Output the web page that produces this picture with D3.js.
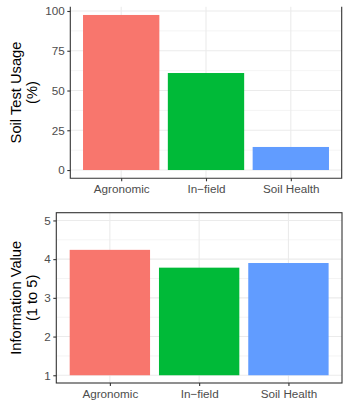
<!DOCTYPE html>
<html><head><meta charset="utf-8">
<script src="https://cdn.jsdelivr.net/npm/d3@7"></script>
<style>
body{margin:0;background:#fff;}
svg{display:block;font-family:"Liberation Sans",Arial,sans-serif;}
</style></head>
<body><svg id="c" width="350" height="409"></svg>
<script>
const categories = ["Agronomic", "In\u2212field", "Soil Health"];
const colors = ["#F8766D", "#00BA38", "#619CFF"];
const usageValues = [97.5, 61.0, 14.5];
const usageTicks = [0, 25, 50, 75, 100];
const usageMinor = [12.5, 37.5, 62.5, 87.5];
const infoValues = [4.24, 3.78, 3.90];
const infoTicks = [1, 2, 3, 4, 5];
const infoMinor = [1.5, 2.5, 3.5, 4.5];

const svg = d3.select("#c");

function panel(opts) {
  const {x0, x1, y0, y1, domain, values, base, ticks, minor, title, fullBorder} = opts;
  const g = svg.append("g");
  const x = d3.scalePoint().domain(categories).range([x0, x1]).padding(0.6);
  const step = x.step();
  const y = d3.scaleLinear().domain(domain).range([y1, y0]);
  g.selectAll(".mn").data(minor).join("line")
    .attr("x1", x0).attr("x2", x1).attr("y1", d => y(d)).attr("y2", d => y(d))
    .attr("stroke", "#ebebeb").attr("stroke-width", 0.55);
  g.selectAll(".mj").data(ticks).join("line")
    .attr("x1", x0).attr("x2", x1).attr("y1", d => y(d)).attr("y2", d => y(d))
    .attr("stroke", "#ebebeb").attr("stroke-width", 1.1);
  g.selectAll(".vx").data(categories).join("line")
    .attr("x1", d => x(d)).attr("x2", d => x(d)).attr("y1", y0).attr("y2", y1)
    .attr("stroke", "#ebebeb").attr("stroke-width", 1.1);
  g.selectAll(".bar").data(values).join("rect")
    .attr("x", (d, i) => x(categories[i]) - step * 0.45)
    .attr("width", step * 0.9)
    .attr("y", d => y(d))
    .attr("height", d => y(base) - y(d))
    .attr("fill", (d, i) => colors[i]);
  const bc = "#333333";
  if (fullBorder) {
    g.append("rect").attr("x", x0).attr("y", y0).attr("width", x1 - x0).attr("height", y1 - y0)
      .attr("fill", "none").attr("stroke", bc).attr("stroke-width", 1.1);
  } else {
    g.append("path").attr("d", `M${x0},${y0}V${y1}H${x1}V${y0}`)
      .attr("fill", "none").attr("stroke", bc).attr("stroke-width", 1.1);
  }
  const ya = g.append("g").attr("transform", `translate(${x0},0)`)
    .call(d3.axisLeft(y).tickValues(ticks).tickFormat(d3.format("d")).tickSize(3).tickPadding(2.5));
  ya.select(".domain").remove();
  ya.selectAll("line").attr("stroke", bc).attr("stroke-width", 1.1);
  ya.selectAll("text").attr("fill", "#4d4d4d").style("font-size", "11.7px")
    .style("font-family", '"Liberation Sans",Arial,sans-serif');
  const xa = g.append("g").attr("transform", `translate(0,${y1})`)
    .call(d3.axisBottom(x).tickSize(3).tickPadding(3.5));
  xa.select(".domain").remove();
  xa.selectAll("line").attr("stroke", bc).attr("stroke-width", 1.1);
  xa.selectAll("text").attr("fill", "#4d4d4d").style("font-size", "11.7px")
    .style("font-family", '"Liberation Sans",Arial,sans-serif');
  const cy = (y0 + y1) / 2;
  title.forEach((s, i) => {
    g.append("text").attr("transform", `translate(${opts.tx[i]},${cy}) rotate(-90)`)
      .attr("text-anchor", "middle").attr("dominant-baseline", "central")
      .attr("fill", "#000").style("font-size", "14.7px").text(s);
  });
}

panel({x0: 70.3, x1: 341.7, y0: 6.7, y1: 178.3, domain: [-5.2, 102.7],
  values: usageValues, base: 0, ticks: usageTicks, minor: usageMinor,
  title: ["Soil Test Usage", "(%)"], fullBorder: false, tx: [16, 31.5]});
panel({x0: 56.3, x1: 342, y0: 212.7, y1: 383, domain: [0.8, 5.2],
  values: infoValues, base: 1, ticks: infoTicks, minor: infoMinor,
  title: ["Information Value", "(1 to 5)"], fullBorder: true, tx: [16, 32]});
</script></body></html>
